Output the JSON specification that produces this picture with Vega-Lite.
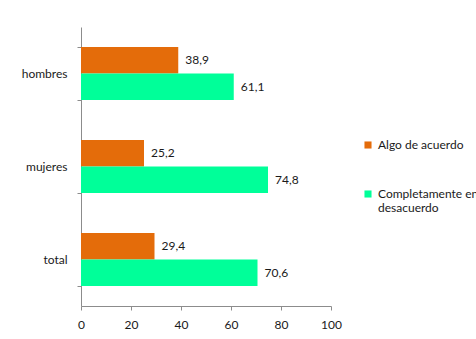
{
  "$schema": "https://vega.github.io/schema/vega-lite/v6.json",
  "width": 250,
  "height": 279,
  "autosize": {"type": "none"},
  "padding": {"left": 81, "top": 27, "right": 145, "bottom": 33},
  "background": "white",
  "config": {
    "font": "Lato",
    "view": {"stroke": null},
    "locale": {"number": {"decimal": ",", "thousands": ".", "grouping": [3], "currency": ["", " €"]}},
    "axis": {"labelFont": "Lato", "labelFontSize": 12, "labelColor": "#1a1a1a", "domainColor": "#8c8c8c", "tickColor": "#8c8c8c", "grid": false, "title": null}
  },
  "data": {
    "values": [
      {"grupo": "hombres", "serie": "Algo de acuerdo", "valor": 38.9},
      {"grupo": "hombres", "serie": "Completamente en desacuerdo", "valor": 61.1},
      {"grupo": "mujeres", "serie": "Algo de acuerdo", "valor": 25.2},
      {"grupo": "mujeres", "serie": "Completamente en desacuerdo", "valor": 74.8},
      {"grupo": "total", "serie": "Algo de acuerdo", "valor": 29.4},
      {"grupo": "total", "serie": "Completamente en desacuerdo", "valor": 70.6}
    ]
  },
  "encoding": {
    "y": {
      "field": "grupo", "type": "nominal", "sort": ["hombres", "mujeres", "total"],
      "scale": {"paddingInner": 0.43, "paddingOuter": 0.215},
      "axis": {"tickBand": "extent", "tickSize": 4, "labelPadding": 10}
    },
    "yOffset": {
      "field": "serie", "type": "nominal", "sort": ["Algo de acuerdo", "Completamente en desacuerdo"],
      "scale": {"paddingInner": 0, "paddingOuter": 0}
    },
    "x": {
      "field": "valor", "type": "quantitative",
      "scale": {"domain": [0, 100], "nice": false},
      "axis": {"values": [0, 20, 40, 60, 80, 100], "tickSize": 4, "labelPadding": 9, "labelFlush": false, "format": "d"}
    }
  },
  "layer": [
    {
      "mark": {"type": "bar"},
      "encoding": {
        "color": {
          "field": "serie", "type": "nominal",
          "sort": ["Algo de acuerdo", "Completamente en desacuerdo"],
          "scale": {"domain": ["Algo de acuerdo", "Completamente en desacuerdo"], "range": ["#E46C0A", "#00FF99"]},
          "legend": {
            "title": null, "orient": "none", "legendX": 281, "legendY": 112,
            "symbolType": "square", "symbolSize": 50, "symbolStrokeWidth": 0,
            "labelFont": "Lato", "labelFontSize": 12, "labelColor": "#1a1a1a",
            "labelOffset": 4, "rowPadding": 37, "labelLimit": 200,
            "labelExpr": "datum.label == 'Completamente en desacuerdo' ? ['Completamente en', 'desacuerdo'] : datum.label"
          }
        }
      }
    },
    {
      "mark": {"type": "text", "align": "left", "baseline": "middle", "dx": 7, "fontSize": 12, "font": "Lato", "color": "#1a1a1a"},
      "encoding": {
        "text": {"field": "valor", "type": "quantitative", "format": ".1f"}
      }
    }
  ]
}
